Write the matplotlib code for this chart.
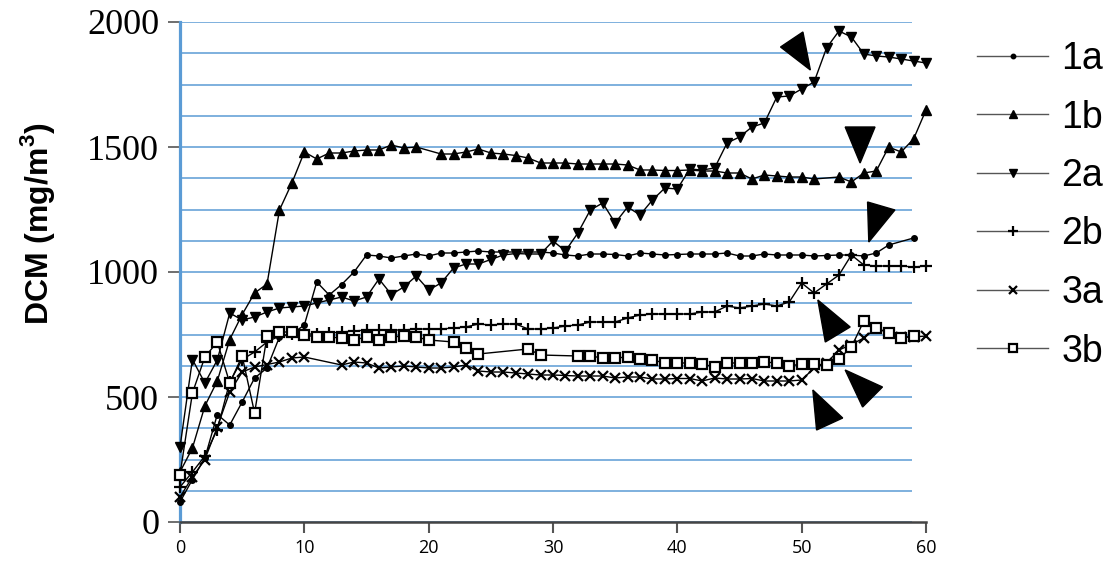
import matplotlib
matplotlib.use('Agg')
import matplotlib.pyplot as plt
from matplotlib.patches import Polygon
import numpy as np

# time axis (one reading per step), None = no reading
x = list(range(61))

s1a = [80, 170, 256, 430, 388, 480, 576, 616, 740, 752,
       788, 960, 908, 950, 1000, 1068, 1064, 1056, 1064, 1072,
       1064, 1076, 1076, 1080, 1084, 1080, 1080, 1080, 1080, 1080,
       1076, 1068, 1064, 1072, 1072, 1070, 1064, 1076, 1072, 1068,
       1070, 1072, 1072, 1072, 1076, 1064, 1064, 1072, 1068, 1068,
       1068, 1064, 1066, 1068, 1068, 1064, 1076, 1108, None, 1136,
       None]

s1b = [200, 296, 464, 564, 730, 830, 916, 952, 1248, 1356,
       1480, 1452, 1476, 1476, 1484, 1488, 1488, 1508, 1496, 1500,
       None, 1472, 1472, 1480, 1492, 1476, 1472, 1466, 1456, 1436,
       1436, 1436, 1432, 1432, 1432, 1432, 1428, 1408, 1408, 1406,
       1406, 1408, 1404, 1404, 1396, 1396, 1372, 1388, 1384, 1380,
       1380, 1372, None, 1380, 1360, 1396, 1404, 1500, 1480, 1532,
       1648]

s2a = [300, 650, 556, 648, 836, 808, 820, 840, 856, 860,
       864, 876, 888, 900, 884, 900, 972, 910, 940, 984,
       928, 956, 1016, 1032, 1032, 1050, 1068, 1074, 1072, 1072,
       1124, 1084, 1156, 1248, 1276, 1196, 1260, 1228, 1288, 1336,
       1332, 1412, 1408, 1416, 1516, 1540, 1580, 1596, 1700, 1704,
       1732, 1760, 1896, 1964, 1940, 1872, 1864, 1860, 1852, 1844,
       1836]

s2b = [140, 200, 264, 370, 560, 650, 680, 720, 744, 752,
       752, 752, 756, 760, 764, 768, 768, 768, 768, 772,
       772, 772, 776, 780, 792, 788, 792, 792, 772, 772,
       776, 784, 788, 800, 800, 800, 816, 828, 832, 832,
       832, 832, 840, 840, 864, 856, 864, 872, 864, 880,
       956, 916, 952, 988, 1068, 1028, 1024, 1024, 1024, 1020,
       1024]

s3a = [100, 180, 250, 380, 520, 600, 620, 630, 640, 656,
       660, None, None, 628, 640, 636, 616, 620, 624, 620,
       616, 616, 620, 628, 604, 600, 600, 596, 592, 588,
       588, 586, 584, 584, 584, 576, 580, 580, 572, 572,
       574, 574, 564, 576, 572, 572, 574, 564, 564, 564,
       568, 616, 636, 688, 710, 736, 776, 756, 740, 740,
       744]

s3b = [190, 516, 660, 720, 556, 664, 436, 744, 760, 760,
       748, 740, 740, 736, 728, 740, 728, 740, 744, 740,
       728, None, 720, 696, 672, None, None, None, 692, 668,
       None, None, 664, 664, 656, 656, 660, 652, 648, 636,
       636, 636, 632, 620, 636, 636, 636, 640, 636, 624,
       632, 632, 628, 652, 700, 804, 776, 756, 736, 744,
       None]

labels = ['1a', '1b', '2a', '2b', '3a', '3b']
series = [s1a, s1b, s2a, s2b, s3a, s3b]
markers = ['o', '^', 'v', '+', 'x', 's']
msizes = [4, 6.5, 6.5, 9, 7, 7]

# black arrowheads pointing at the events (data coordinates)
arrowheads = [
    [(48.3, 1900), (50.1, 1960), (50.7, 1808)],
    [(53.5, 1580), (55.9, 1580), (54.7, 1436)],
    [(55.3, 1280), (57.5, 1248), (55.4, 1120)],
    [(51.3, 888), (53.9, 780), (51.9, 720)],
    [(53.5, 608), (56.5, 540), (54.9, 460)],
    [(50.9, 528), (53.3, 416), (51.2, 368)],
]

blue = '#5b9bd5'

fig = plt.figure(figsize=(11.12, 5.63), dpi=100)
ax = fig.add_axes([180 / 1112, 1 - 522 / 563, 746 / 1112, 500 / 563])

# blue ruled lines
ax.hlines(np.arange(0, 2001, 125), 0, 58.9, color=blue, lw=1.1, zorder=1)

for lab, s, m, ms in zip(labels, series, markers, msizes):
    xs = np.array([xi for xi, v in zip(x, s) if v is not None])
    ys = np.array([v for v in s if v is not None])
    mfc = 'white' if m == 's' else 'black'
    mew = 1.6 if m in ('s', '+', 'x') else 1
    ax.plot(xs, ys, color='black', lw=1, marker=m, ms=ms, mfc=mfc,
            mec='black', mew=mew, zorder=3, clip_on=False, label=lab)

for tri in arrowheads:
    ax.add_patch(Polygon(tri, closed=True, facecolor='black',
                         edgecolor='black', zorder=4, clip_on=False))

ax.set_xlim(0, 60)
ax.set_ylim(0, 2000)
ax.spines['top'].set_visible(False)
ax.spines['right'].set_visible(False)
ax.spines['left'].set_color(blue)
ax.spines['left'].set_linewidth(2.3)
ax.spines['bottom'].set_color('#444444')
ax.spines['bottom'].set_linewidth(1.8)

ax.set_xticks(range(0, 61, 10))
ax.set_yticks(range(0, 2001, 500))
ax.tick_params(axis='x', length=8, width=1.5, color='#555555', pad=4,
               labelsize=13)
ax.tick_params(axis='y', length=9, width=1.2, color='#555555', pad=6,
               labelsize=26)
for t in ax.get_yticklabels():
    t.set_fontfamily('Liberation Serif')
for t in ax.get_xticklabels():
    t.set_fontfamily('Open Sans')

fig.text(38 / 1112, 1 - 224 / 563, 'DCM (mg/m$^\\mathregular{3}$)',
         rotation=90, ha='center', va='center', fontsize=23,
         fontweight='bold', family='Liberation Sans')

leg = ax.legend(loc='upper left', bbox_to_anchor=(977 / 1112, 1 - 41 / 563),
                bbox_transform=fig.transFigure, frameon=False,
                prop={'family': 'Liberation Sans', 'size': 27},
                handlelength=1.9, handletextpad=0.35, labelspacing=0.6,
                borderpad=0, borderaxespad=0)
for h in leg.legend_handles:
    h.set_color('#555555')
    h.set_linewidth(1)
    h.set_markeredgecolor('black')
    h.set_markersize(h.get_markersize() * 0.8)

fig.savefig('out.png', dpi=100)
